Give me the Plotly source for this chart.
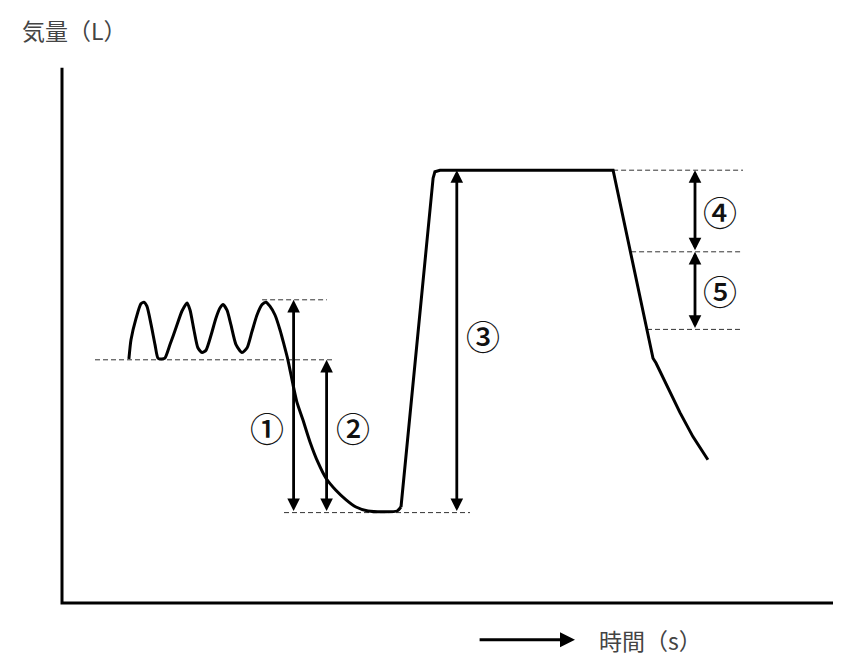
'''Spirogram schematic: lung volume vs time'''

import plotly.graph_objects as go

# quiet breathing + slow full expiration (time in s, volume in L)
t_slow = [2.23, 2.30, 2.47, 2.63, 2.73, 2.83, 2.97, 3.10, 3.20, 3.33, 3.43,
          3.60, 3.80, 4.00, 4.17, 4.27, 4.40, 4.53, 4.67, 4.80, 4.97, 5.13,
          5.27, 5.37, 5.50, 5.63, 5.80, 6.00, 6.17, 6.33, 6.50, 6.67, 6.80,
          6.93, 7.10, 7.27, 7.40, 7.53, 7.70, 7.83, 8.03, 8.27, 8.53, 8.80,
          9.13, 9.47, 9.80, 10.20, 10.77, 11.17, 11.30]
v_slow = [3.05, 3.29, 3.56, 3.74, 3.76, 3.71, 3.48, 3.23, 3.06, 3.05, 3.06,
          3.23, 3.44, 3.65, 3.75, 3.66, 3.41, 3.19, 3.13, 3.16, 3.35, 3.56,
          3.69, 3.73, 3.66, 3.48, 3.23, 3.13, 3.19, 3.39, 3.60, 3.73, 3.76,
          3.71, 3.60, 3.41, 3.23, 3.04, 2.73, 2.51, 2.29, 2.01, 1.76, 1.56,
          1.41, 1.29, 1.20, 1.15, 1.14, 1.15, 1.20]

# full inspiration, hold, forced expiration
t_forced = [11.30, 12.37, 12.43, 12.60, 18.37, 19.70, 19.80, 20.27, 20.60, 21.03, 21.53]
v_forced = [1.20, 5.31, 5.39, 5.41, 5.41, 3.06, 3.00, 2.63, 2.38, 2.08, 1.79]

# reference levels (dashed): (volume, t start, t end)
ref_levels = [
    (3.79, 6.67, 8.83),    # tidal peak
    (3.04, 1.10, 9.00),    # FRC
    (1.13, 7.40, 13.60),   # RV
    (5.41, 18.37, 22.70),  # TLC
    (4.39, 18.97, 22.70),  # 1 s
    (3.42, 19.50, 22.70),  # 2 s
]

# double arrows: (time, volume top, volume bottom)
arrows = [
    (7.72, 3.79, 1.13),
    (8.82, 3.04, 1.13),
    (13.16, 5.41, 1.13),
    (21.10, 5.41, 4.39),
    (21.10, 4.39, 3.42),
]

labels = ['①', '②', '③', '④', '⑤']
label_t = [6.82, 9.71, 14.04, 21.93, 21.93]
label_v = [2.20, 2.20, 3.35, 4.89, 3.91]

axis_top = 6.69
axis_right = 25.7

FONT = 'Noto Sans CJK JP'

# page has an 8px body margin: shrink the figure and shift the ranges to match
PAD = 8
W, H = 849 - 2 * PAD, 665 - 2 * PAD

fig = go.Figure()

# axes
fig.add_trace(go.Scatter(x=[0, 0, axis_right], y=[axis_top, 0, 0], mode='lines',
                         line=dict(color='black', width=3)))

for v, t0, t1 in ref_levels:
    fig.add_trace(go.Scatter(x=[t0, t1], y=[v, v], mode='lines',
                             line=dict(color='#333333', width=1, dash='5px,3px')))

fig.add_trace(go.Scatter(x=t_slow, y=v_slow, mode='lines',
                         line=dict(color='black', width=3, shape='spline', smoothing=0.6)))
fig.add_trace(go.Scatter(x=t_forced, y=v_forced, mode='lines',
                         line=dict(color='black', width=3)))

annotations = []
for t, v_top, v_bot in arrows:
    annotations.append(dict(
        x=t, y=v_top, ax=t, ay=v_bot, xref='x', yref='y', axref='x', ayref='y',
        text='', showarrow=True, arrowhead=2, arrowside='end+start',
        arrowsize=0.9, arrowwidth=2.8, arrowcolor='black',
        standoff=0, startstandoff=0))

for lab, t, v in zip(labels, label_t, label_v):
    annotations.append(dict(x=t, y=v, text=lab, showarrow=False,
                            font=dict(family=FONT, size=34, color='#111111', weight=500)))

# time direction arrow + axis names
annotations.append(dict(x=17.10, y=-0.46, ax=13.87, ay=-0.46, xref='x', yref='y',
                        axref='x', ayref='y', text='', showarrow=True, arrowhead=2,
                        arrowsize=1, arrowwidth=3, arrowcolor='black', standoff=0))
annotations.append(dict(x=17.83, y=-0.46, text='時間（s）', showarrow=False,
                        xanchor='left', font=dict(family=FONT, size=23, color='#444444')))
annotations.append(dict(x=-1.40, y=7.16, text='気量（L）', showarrow=False,
                        xanchor='left', font=dict(family=FONT, size=23, color='#444444')))

fig.update_layout(
    width=W, height=H,
    margin=dict(l=0, r=0, t=0, b=0),
    paper_bgcolor='white', plot_bgcolor='white',
    showlegend=False,
    xaxis=dict(range=[(PAD - 62) / 30, (PAD + W - 62) / 30], visible=False, fixedrange=True),
    yaxis=dict(range=[(603 - PAD - H) / 80, (603 - PAD) / 80], visible=False, fixedrange=True),
    annotations=annotations,
)

fig.write_html('out.html')
